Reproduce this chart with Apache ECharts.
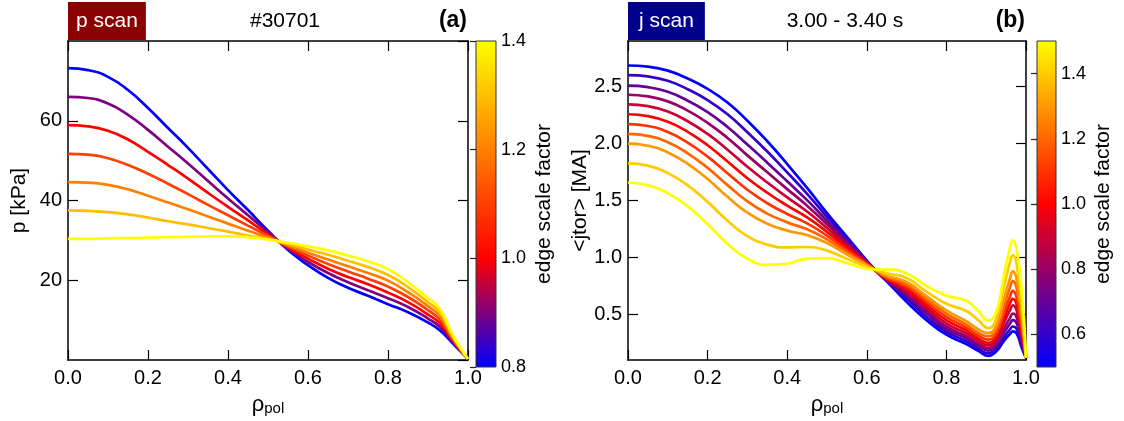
<!DOCTYPE html>
<html><head><meta charset="utf-8">
<script src="https://cdn.jsdelivr.net/npm/echarts@6/dist/echarts.min.js"></script>
<style>html,body{margin:0;padding:0;background:#fff}#c{width:1124px;height:421px}</style>
</head><body><div id="c"></div>
<script>
// ---------------- DATA ----------------
// panel (a): pressure profiles p [kPa] vs rho_pol, edge scale factors 0.8..1.4
const pFactors = [0.8, 0.9, 1.0, 1.1, 1.2, 1.3, 1.4];
const rhoP = [0, 0.05, 0.1, 0.15, 0.2, 0.25, 0.3, 0.35, 0.4, 0.45, 0.5, 0.55, 0.6, 0.65, 0.7, 0.75, 0.8, 0.85, 0.9, 0.93, 0.96, 0.98, 1.0];
const p_08 = [73.2, 72.7, 71.0, 67.7, 63.2, 58.2, 53.2, 47.9, 42.6, 37.6, 32.4, 27.6, 23.8, 20.6, 18.1, 16.1, 14.0, 12.0, 9.4, 7.4, 4.4, 2.3, 0.3];
const p_09 = [66.0, 65.7, 64.3, 61.5, 57.7, 53.5, 49.3, 44.9, 40.5, 36.3, 32.0, 27.9, 24.6, 21.8, 19.5, 17.5, 15.5, 13.3, 10.4, 8.3, 4.8, 2.5, 0.3];
const p_10 = [58.9, 58.6, 57.5, 55.3, 52.2, 48.9, 45.5, 41.9, 38.4, 35.0, 31.5, 28.2, 25.4, 22.9, 20.8, 19.0, 16.9, 14.5, 11.4, 9.2, 5.2, 2.6, 0.3];
const p_11 = [51.7, 51.5, 50.6, 48.9, 46.7, 44.2, 41.6, 38.9, 36.3, 33.7, 31.1, 28.5, 26.2, 24.1, 22.2, 20.4, 18.4, 15.8, 12.5, 10.1, 5.6, 2.8, 0.3];
const p_12 = [44.6, 44.5, 43.9, 42.8, 41.2, 39.5, 37.8, 36.0, 34.2, 32.4, 30.7, 28.8, 26.9, 25.2, 23.5, 21.8, 19.9, 17.0, 13.5, 11.0, 5.9, 2.9, 0.3];
const p_13 = [37.5, 37.4, 37.1, 36.5, 35.7, 34.8, 34.0, 33.1, 32.2, 31.2, 30.3, 29.1, 27.7, 26.4, 24.9, 23.3, 21.3, 18.3, 14.5, 11.9, 6.3, 3.1, 0.3];
const p_14 = [30.4, 30.4, 30.5, 30.6, 30.7, 30.8, 30.9, 31.0, 31.0, 30.8, 30.2, 29.4, 28.5, 27.5, 26.2, 24.7, 22.8, 19.5, 15.5, 12.8, 6.7, 3.2, 0.3];
const pCurves = [p_08, p_09, p_10, p_11, p_12, p_13, p_14];
const pCbarTicks = [0.8, 1.0, 1.2, 1.4];

// panel (b): <jtor> [MA] vs rho_pol, edge scale factors 0.5..1.5
const jFactors = [0.5, 0.6, 0.7, 0.8, 0.9, 1.0, 1.1, 1.2, 1.3, 1.4, 1.5];
const rhoJ = [0, 0.05, 0.1, 0.15, 0.2, 0.25, 0.3, 0.35, 0.4, 0.45, 0.5, 0.55, 0.62, 0.65, 0.7, 0.75, 0.8, 0.85, 0.88, 0.905, 0.925, 0.945, 0.96, 0.967, 0.977, 0.99, 1.0];
const j_05 = [2.685, 2.675, 2.640, 2.570, 2.480, 2.360, 2.200, 2.020, 1.820, 1.610, 1.390, 1.180, 0.893, 0.79, 0.61, 0.45, 0.322, 0.24, 0.18, 0.137, 0.175, 0.27, 0.33, 0.351, 0.33, 0.20, 0.12];
const j_06 = [2.600, 2.589, 2.551, 2.477, 2.381, 2.257, 2.100, 1.930, 1.747, 1.559, 1.357, 1.161, 0.893, 0.795, 0.64, 0.48, 0.348, 0.265, 0.20, 0.159, 0.20, 0.30, 0.37, 0.394, 0.37, 0.22, 0.12];
const j_07 = [2.508, 2.495, 2.454, 2.376, 2.275, 2.145, 1.991, 1.832, 1.669, 1.503, 1.322, 1.140, 0.893, 0.80, 0.66, 0.51, 0.371, 0.29, 0.225, 0.182, 0.225, 0.34, 0.42, 0.450, 0.42, 0.25, 0.12];
const j_08 = [2.428, 2.414, 2.370, 2.289, 2.182, 2.049, 1.896, 1.748, 1.600, 1.454, 1.291, 1.122, 0.893, 0.805, 0.685, 0.535, 0.394, 0.31, 0.245, 0.205, 0.25, 0.38, 0.47, 0.508, 0.47, 0.28, 0.12];
const j_09 = [2.343, 2.328, 2.281, 2.196, 2.084, 1.946, 1.796, 1.658, 1.528, 1.403, 1.258, 1.103, 0.893, 0.81, 0.705, 0.56, 0.422, 0.335, 0.27, 0.228, 0.28, 0.43, 0.54, 0.579, 0.53, 0.31, 0.12];
const j_10 = [2.257, 2.241, 2.191, 2.103, 1.985, 1.843, 1.695, 1.568, 1.455, 1.351, 1.225, 1.084, 0.893, 0.815, 0.725, 0.585, 0.450, 0.36, 0.29, 0.251, 0.305, 0.47, 0.60, 0.636, 0.58, 0.34, 0.12];
const j_11 = [2.171, 2.154, 2.101, 2.008, 1.885, 1.739, 1.594, 1.476, 1.382, 1.299, 1.192, 1.065, 0.893, 0.82, 0.745, 0.61, 0.479, 0.385, 0.315, 0.279, 0.335, 0.52, 0.66, 0.707, 0.64, 0.38, 0.12];
const j_12 = [2.085, 2.067, 2.011, 1.914, 1.786, 1.635, 1.492, 1.385, 1.308, 1.247, 1.159, 1.045, 0.893, 0.83, 0.765, 0.635, 0.508, 0.41, 0.34, 0.308, 0.37, 0.58, 0.74, 0.793, 0.72, 0.42, 0.12];
const j_13 = [2.000, 1.981, 1.922, 1.822, 1.688, 1.533, 1.393, 1.296, 1.236, 1.196, 1.127, 1.027, 0.893, 0.84, 0.785, 0.66, 0.536, 0.44, 0.37, 0.336, 0.405, 0.64, 0.82, 0.878, 0.80, 0.47, 0.12];
const j_14 = [1.826, 1.806, 1.740, 1.633, 1.488, 1.323, 1.188, 1.113, 1.088, 1.092, 1.060, 0.988, 0.893, 0.86, 0.82, 0.70, 0.593, 0.53, 0.45, 0.379, 0.46, 0.75, 0.96, 1.021, 0.93, 0.56, 0.12];
const j_15 = [1.658, 1.635, 1.564, 1.449, 1.293, 1.120, 0.990, 0.935, 0.945, 0.990, 0.995, 0.950, 0.893, 0.893, 0.86, 0.75, 0.665, 0.62, 0.53, 0.445, 0.52, 0.85, 1.09, 1.150, 1.06, 0.68, 0.12];
const jCurves = [j_05, j_06, j_07, j_08, j_09, j_10, j_11, j_12, j_13, j_14, j_15];
const jTicks = [0.5, 1.0, 1.5, 2.0, 2.5];
const jCbarTicks = [0.6, 0.8, 1.0, 1.2, 1.4];

// ---------------- STYLE ----------------
const FONT = "'Liberation Sans', Arial, Helvetica, sans-serif";
function cmap(v, lo, mid, hi) {
  let r, g, b;
  if (v <= mid) { const s = (v - lo) / (mid - lo); r = 255 * s; g = 0; b = 255 * (1 - s); }
  else { const s = (v - mid) / (hi - mid); r = 255; g = 255 * s; b = 0; }
  return 'rgb(' + Math.round(r) + ',' + Math.round(g) + ',' + Math.round(b) + ')';
}
function cbarGradient(lo, mid, hi) {
  const f = (hi - mid) / (hi - lo);
  return new echarts.graphic.LinearGradient(0, 0, 0, 1, [
    { offset: 0, color: '#ffff00' },
    { offset: f, color: '#ff0000' },
    { offset: 1, color: '#0000ff' }
  ]);
}
const fmt1 = v => Number(v).toFixed(1);
const lineAx = { show: true, onZero: false, lineStyle: { color: '#000', width: 1.5 } };
const tickAx = { show: true, inside: true, length: 10, lineStyle: { color: '#000', width: 1.2 } };
const labAx = { color: '#000', fontSize: 20, fontFamily: FONT };
const nameSt = { color: '#000', fontSize: 21, fontFamily: FONT };
const rhoName = {
  name: '{r|ρ}{s|pol}', nameLocation: 'middle', nameGap: 32,
  nameTextStyle: { rich: {
    r: { fontSize: 22, fontFamily: FONT, color: '#000', verticalAlign: 'bottom', lineHeight: 24 },
    s: { fontSize: 15, fontFamily: FONT, color: '#000', verticalAlign: 'bottom', lineHeight: 12 }
  } }
};

const grids = [
  { left: 68, top: 41, width: 400, height: 326 },
  { left: 476, top: 41, width: 20, height: 326, show: true, backgroundColor: cbarGradient(0.8, 1.0, 1.4), borderColor: '#333', borderWidth: 1 },
  { left: 628, top: 41, width: 398, height: 326 },
  { left: 1037, top: 41, width: 19, height: 326, show: true, backgroundColor: cbarGradient(0.5, 1.0, 1.5), borderColor: '#333', borderWidth: 1 }
];

function xMain(gi, withLabels) {
  const a = {
    type: 'value', gridIndex: gi, min: 0, max: 1, interval: 0.2,
    position: withLabels ? 'bottom' : 'top',
    axisLine: lineAx, axisTick: tickAx, splitLine: { show: false },
    axisLabel: withLabels ? Object.assign({ margin: 8, formatter: fmt1 }, labAx) : { show: false }
  };
  if (withLabels) Object.assign(a, rhoName);
  return a;
}
const xAxes = [
  xMain(0, true), xMain(0, false),
  { type: 'value', gridIndex: 1, show: false, min: 0, max: 1 },
  xMain(2, true), xMain(2, false),
  { type: 'value', gridIndex: 3, show: false, min: 0, max: 1 }
];

const yAxes = [
  { type: 'value', gridIndex: 0, position: 'left', min: 0, max: 80, interval: 20,
    axisLine: lineAx, axisTick: tickAx, splitLine: { show: false },
    axisLabel: Object.assign({ margin: 6, showMinLabel: false, showMaxLabel: false }, labAx),
    name: 'p [kPa]', nameLocation: 'middle', nameGap: 38, nameRotate: 90, nameTextStyle: nameSt },
  { type: 'value', gridIndex: 0, position: 'right', min: 0, max: 80, interval: 20,
    axisLine: lineAx, axisTick: tickAx, splitLine: { show: false }, axisLabel: { show: false } },
  { type: 'value', gridIndex: 1, position: 'right', min: 0.8, max: 1.4,
    axisLine: { show: false }, splitLine: { show: false },
    axisTick: { show: true, inside: true, length: 6, customValues: pCbarTicks, lineStyle: { color: '#222', width: 1.2 } },
    axisLabel: Object.assign({ margin: 5, customValues: pCbarTicks, formatter: fmt1 }, labAx, { fontSize: 18 }),
    name: 'edge scale factor', nameLocation: 'middle', nameGap: 38, nameRotate: 90, nameTextStyle: nameSt },
  { type: 'value', gridIndex: 2, position: 'left', min: 0.1, max: 2.9,
    axisLine: lineAx, splitLine: { show: false },
    axisTick: Object.assign({ customValues: jTicks }, tickAx),
    axisLabel: Object.assign({ margin: 6, customValues: jTicks, formatter: fmt1 }, labAx),
    name: '<jtor> [MA]', nameLocation: 'middle', nameGap: 34, nameRotate: 90, nameTextStyle: nameSt },
  { type: 'value', gridIndex: 2, position: 'right', min: 0.1, max: 2.9,
    axisLine: lineAx, splitLine: { show: false },
    axisTick: Object.assign({ customValues: jTicks }, tickAx), axisLabel: { show: false } },
  { type: 'value', gridIndex: 3, position: 'right', min: 0.5, max: 1.5,
    axisLine: { show: false }, splitLine: { show: false },
    axisTick: { show: true, inside: true, length: 6, customValues: jCbarTicks, lineStyle: { color: '#222', width: 1.2 } },
    axisLabel: Object.assign({ margin: 5, customValues: jCbarTicks, formatter: fmt1 }, labAx, { fontSize: 18 }),
    name: 'edge scale factor', nameLocation: 'middle', nameGap: 37, nameRotate: 90, nameTextStyle: nameSt }
];

const series = [];
pCurves.forEach((arr, k) => {
  series.push({
    type: 'line', xAxisIndex: 0, yAxisIndex: 0, showSymbol: false, smooth: 0.5,
    z: 2 + k, lineStyle: { width: 2.7, color: cmap(pFactors[k], 0.8, 1.0, 1.4) },
    data: rhoP.map((x, i) => [x, arr[i]]), animation: false
  });
});
jCurves.forEach((arr, k) => {
  series.push({
    type: 'line', xAxisIndex: 3, yAxisIndex: 3, showSymbol: false, smooth: 0.5,
    z: 2 + k, lineStyle: { width: 2.7, color: cmap(jFactors[k], 0.5, 1.0, 1.5) },
    data: rhoJ.map((x, i) => [x, arr[i]]), animation: false
  });
});

const titleBox = (text, left, bg, padH) => ({
  text, left, top: 2, backgroundColor: bg, padding: [6, padH, 6, padH],
  textStyle: { color: '#fff', fontSize: 21, fontWeight: 'normal', fontFamily: FONT, lineHeight: 26 }
});
const txt = (t, x, align, bold) => ({
  type: 'text', x, y: 21,
  style: { text: t, fill: '#000', font: (bold ? 'bold ' : '') + (bold ? '23px ' : '21px ') + FONT, textAlign: align, textVerticalAlign: 'middle' }
});

const chart = echarts.init(document.getElementById('c'), null, { renderer: 'canvas' });
chart.setOption({
  animation: false,
  backgroundColor: '#fff',
  title: [titleBox('p scan', 68, '#8b0000', 8), titleBox('j scan', 628, '#00008b', 11)],
  grid: grids, xAxis: xAxes, yAxis: yAxes, series,
  graphic: [txt('#30701', 285, 'center', false), txt('(a)', 467, 'right', true),
            txt('3.00 - 3.40 s', 845, 'center', false), txt('(b)', 1025, 'right', true)]
});
</script></body></html>
